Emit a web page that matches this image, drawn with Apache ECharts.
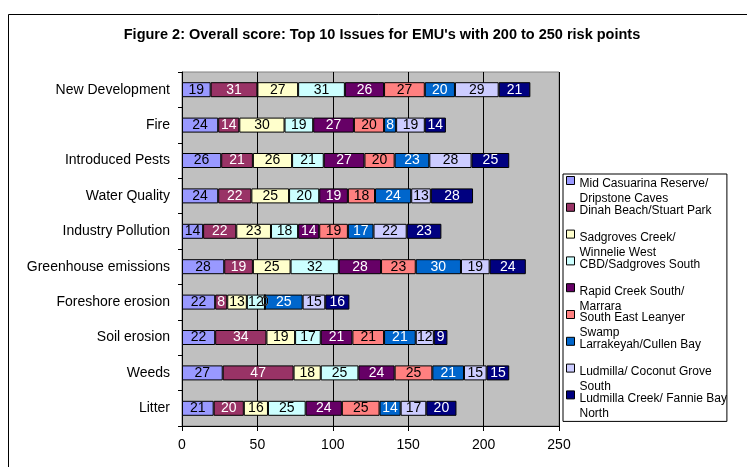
<!DOCTYPE html>
<html>
<head>
<meta charset="utf-8">
<script src="https://cdn.jsdelivr.net/npm/echarts@6/dist/echarts.min.js"></script>
<style>html,body{margin:0;padding:0;background:#fff}#c{width:747px;height:467px}</style>
</head>
<body>
<div id="c"></div>
<script>
var categories = ["New Development","Fire","Introduced Pests","Water Quality","Industry Pollution","Greenhouse emissions","Foreshore erosion","Soil erosion","Weeds","Litter"];
var seriesNames = ["Mid Casuarina Reserve/ Dripstone Caves","Dinah Beach/Stuart Park","Sadgroves Creek/ Winnelie West","CBD/Sadgroves South","Rapid Creek South/ Marrara","South East Leanyer Swamp","Larrakeyah/Cullen Bay","Ludmilla/ Coconut Grove South","Ludmilla Creek/ Fannie Bay North"];
var legendLabels = ["Mid Casuarina Reserve/\nDripstone Caves","Dinah Beach/Stuart Park\n ","Sadgroves Creek/\nWinnelie West","CBD/Sadgroves South\n ","Rapid Creek South/\nMarrara","South East Leanyer\nSwamp","Larrakeyah/Cullen Bay\n ","Ludmilla/ Coconut Grove\nSouth","Ludmilla Creek/ Fannie Bay\nNorth"];
var midCasuarina   = [19,24,26,24,14,28,22,22,27,21];
var dinahBeach     = [31,14,21,22,22,19,8,34,47,20];
var sadgrovesCreek = [27,30,26,25,23,25,13,19,18,16];
var cbdSadgroves   = [31,19,21,20,18,32,12,17,25,25];
var rapidCreek     = [26,27,27,19,14,28,0,21,24,24];
var seLeanyer      = [27,20,20,18,19,23,0,21,25,25];
var larrakeyah     = [20,8,23,24,17,30,25,21,21,14];
var ludmillaCoconut= [29,19,28,13,22,19,15,12,15,17];
var ludmillaCreek  = [21,14,25,28,23,24,16,9,15,20];
var xTicks = [0,50,100,150,200,250];

var values = [midCasuarina,dinahBeach,sadgrovesCreek,cbdSadgroves,rapidCreek,seLeanyer,larrakeyah,ludmillaCoconut,ludmillaCreek];
var colors = ["#9999FF","#993366","#FFFFCC","#CCFFFF","#660066","#FF8080","#0066CC","#CCCCFF","#000080"];
var labelColors = ["#000","#fff","#000","#000","#fff","#000","#fff","#000","#fff"];
var FONT = "Liberation Sans, Arial, sans-serif";

var chart = echarts.init(document.getElementById('c'), null, {renderer:'canvas'});
var series = seriesNames.map(function(n,i){
  return {
    name: n, type: 'bar', stack: 'total', barWidth: 15,
    data: values[i],
    itemStyle: {color: colors[i], borderColor: '#000', borderWidth: 1},
    label: {show: true, position: 'inside', color: labelColors[i], fontSize: 14, fontFamily: FONT},
    emphasis: {disabled: true}
  };
});
chart.setOption({
  animation: false,
  backgroundColor: '#fff',
  title: {text: "Figure 2: Overall score: Top 10 Issues for EMU's with 200 to 250 risk points", left: 377, top: 22, textAlign: 'center',
    textStyle: {fontFamily: FONT, fontSize: 14.5, fontWeight: 'bold', color: '#000'}},
  graphic: [{type: 'rect', shape: {x: 8.5, y: 14.5, width: 800, height: 500}, style: {fill: 'none', stroke: '#000', lineWidth: 1}, silent: true, z: -1}],
  legend: {
    orient: 'vertical', left: 563, top: 174,
    data: seriesNames,
    formatter: function(n){ return legendLabels[seriesNames.indexOf(n)]; },
    itemWidth: 8, itemHeight: 30, icon: 'path://M0,0 L8,0 L8,8 L0,8 Z M0,30 L0,30', itemGap: -4.2,
    itemStyle: {borderColor: '#000', borderWidth: 1},
    textStyle: {fontFamily: FONT, fontSize: 12, color: '#000', lineHeight: 15},
    backgroundColor: '#fff', borderColor: '#000', borderWidth: 1,
    padding: [2, 0, 0, 3]
  },
  grid: {left: 182, top: 72, width: 377, height: 354, show: true, backgroundColor: '#C0C0C0', borderColor: '#808080', borderWidth: 1},
  xAxis: {type: 'value', min: xTicks[0], max: xTicks[xTicks.length-1], interval: 50,
    axisLine: {show: true, lineStyle: {color: '#000'}},
    axisTick: {show: true, length: 5, lineStyle: {color: '#000'}},
    axisLabel: {fontFamily: FONT, fontSize: 14, color: '#000', margin: 12},
    splitLine: {show: true, lineStyle: {color: '#000', width: 1}}},
  yAxis: {type: 'category', data: categories, inverse: true,
    axisLine: {show: true, lineStyle: {color: '#000'}},
    axisTick: {show: true, length: 4, lineStyle: {color: '#000'}},
    axisLabel: {fontFamily: FONT, fontSize: 14, color: '#000', margin: 12},
    splitLine: {show: false}},
  series: series
});
</script>
</body>
</html>
